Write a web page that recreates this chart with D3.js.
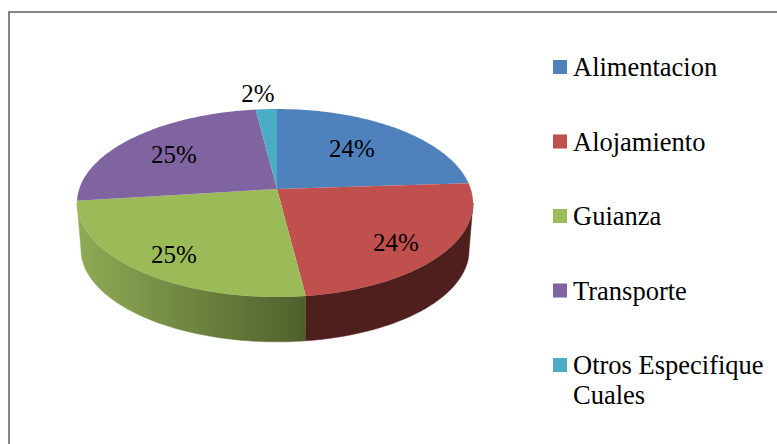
<!DOCTYPE html>
<html>
<head>
<meta charset="utf-8">
<script src="https://cdn.jsdelivr.net/npm/d3@7"></script>
<style>
  html, body { margin: 0; padding: 0; background: #fff; overflow: hidden; }
  svg { display: block; font-family: "Liberation Serif", serif; fill: #000; }
</style>
</head>
<body>
<svg width="777" height="444"></svg>
<script>
const categories = ["Alimentacion", "Alojamiento", "Guianza", "Transporte", "Otros Especifique Cuales"];
const values = [24, 24, 25, 25, 2];
const colors = ["#4f81bd", "#c0504d", "#9bbb59", "#8064a2", "#4bacc6"];

const svg = d3.select("svg");

// chart frame, runs off the right and bottom of the picture
svg.append("path")
  .attr("d", "M9,444V12H777")
  .attr("fill", "none")
  .attr("stroke", "#868686")
  .attr("stroke-width", 2);

// tilted disc: perspective projection of a unit circle
const apex = { x: 277, y: 189 };
const persp = 0.149, rxUnit = 195.8, ryUnit = 91.9;
const depth = { dy: 47, shrink: 0.98 };
const lean = 2; // rim sits a little left of the apex at its widest

function project(angle, r = 1, lower = false) {
  const u = r * Math.sin(angle), v = r * Math.cos(angle);
  const w = 1 + persp * v;
  const s = lower ? depth.shrink : 1;
  return [
    apex.x + s * rxUnit * u / w - lean * u * u,
    apex.y + (lower ? depth.dy : 0) - s * ryUnit * v / w
  ];
}

const pie = d3.pie().sort(null).value(d => d);
const slices = pie(values);
const line = d3.line();
const arcPoints = (a0, a1, lower) =>
  d3.range(0, 81).map(i => project(a0 + (a1 - a0) * i / 80, 1, lower));

// side wall, only the front part of the rim shows
const rimStart = Math.PI / 2 + Math.asin(persp);
const rimEnd = Math.PI * 1.5 - Math.asin(persp);
const defs = svg.append("defs");
const sideGrad = defs.append("linearGradient").attr("id", "greenSide")
  .attr("gradientUnits", "userSpaceOnUse")
  .attr("x1", project(rimEnd)[0]).attr("x2", project(slices[1].endAngle)[0])
  .attr("y1", 0).attr("y2", 0);
sideGrad.append("stop").attr("offset", 0).attr("stop-color", "#8fab55");
sideGrad.append("stop").attr("offset", 1).attr("stop-color", "#4f5f2b");

const sideFill = ["#4f81bd", "#4f1f1e", "url(#greenSide)"];
slices.slice(1, 3).forEach(d => {
  const a0 = Math.max(d.startAngle, rimStart), a1 = Math.min(d.endAngle, rimEnd);
  const pts = arcPoints(a0, a1, false).concat(arcPoints(a1, a0, true));
  svg.append("path")
    .attr("d", line(pts) + "Z")
    .attr("fill", sideFill[d.index])
    .attr("stroke", sideFill[d.index])
    .attr("stroke-width", 0.5);
});

// top face
svg.selectAll(".slice")
  .data(slices)
  .enter()
  .append("path")
  .attr("class", "slice")
  .attr("d", d => line([[apex.x, apex.y]].concat(arcPoints(d.startAngle, d.endAngle, false))) + "Z")
  .attr("fill", (d, i) => colors[i]);

// data labels
const labelPos = [[352, 157], [396, 251], [174, 263], [174, 163], [258, 102]];
svg.selectAll(".pct")
  .data(slices)
  .enter()
  .append("text")
  .attr("class", "pct")
  .attr("x", (d, i) => labelPos[i][0])
  .attr("y", (d, i) => labelPos[i][1])
  .attr("text-anchor", "middle")
  .style("font-size", "25px")
  .text(d => d.data + "%");

// legend
const legendY = d3.scalePoint().domain(categories).range([60, 358]);
const legendLines = { "Otros Especifique Cuales": ["Otros Especifique", "Cuales"] };
const legend = svg.selectAll(".legend")
  .data(categories)
  .enter()
  .append("g")
  .attr("class", "legend")
  .attr("transform", d => `translate(553,${legendY(d)})`);

legend.append("rect")
  .attr("width", 14)
  .attr("height", 14)
  .attr("fill", (d, i) => colors[i]);

legend.each(function(d) {
  (legendLines[d] || [d]).forEach((t, i) => {
    d3.select(this).append("text")
      .attr("x", 20)
      .attr("y", 16 + i * 30)
      .style("font-size", "26.5px")
      .text(t);
  });
});
</script>
</body>
</html>
